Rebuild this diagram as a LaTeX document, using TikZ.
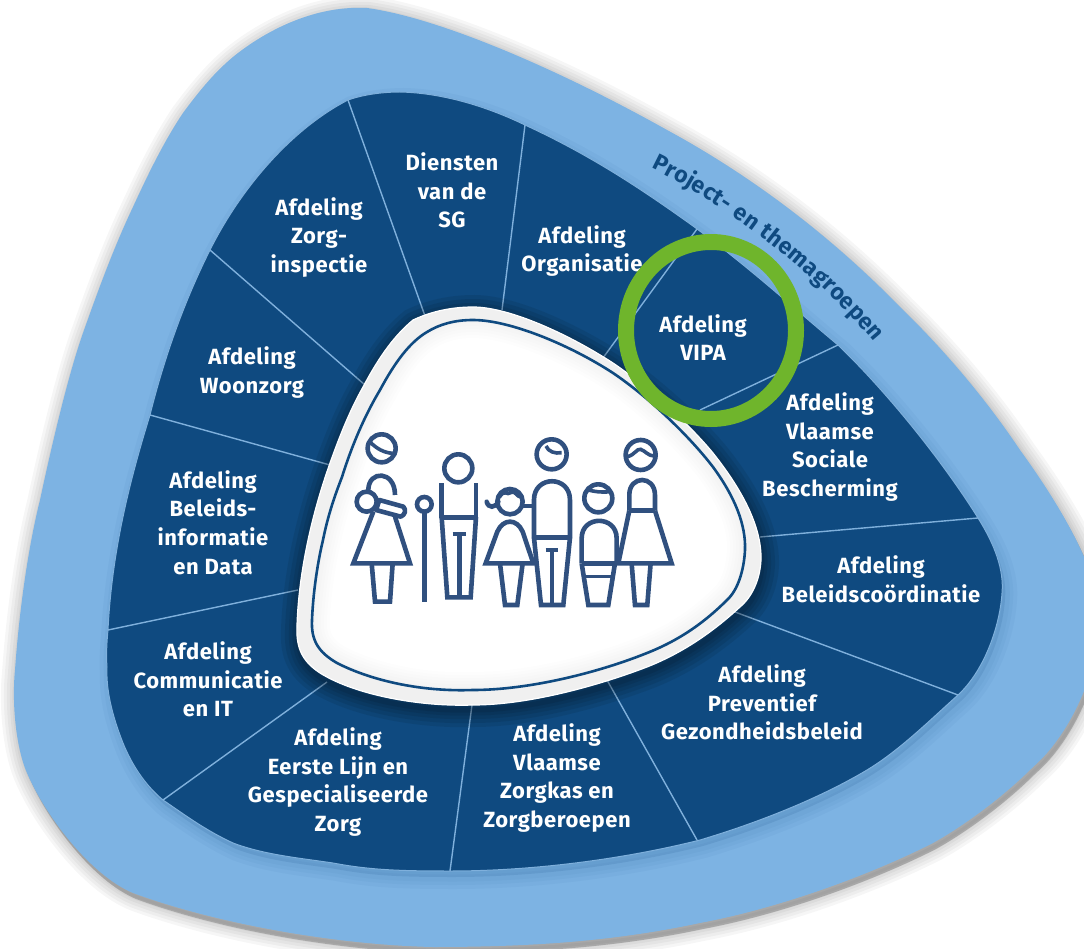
\documentclass[tikz,border=0pt]{standalone}
\usepackage{fontspec}
\setmainfont{Fira Sans}[LetterSpace=2.5]
\usetikzlibrary{decorations.text}
\definecolor{navy}{HTML}{0F4A80}
\definecolor{sky}{HTML}{7DB3E3}
\definecolor{divline}{HTML}{7FB0DC}
\definecolor{ring}{HTML}{6FB52C}
\definecolor{icon}{HTML}{30507F}
\newcommand{\outerpath}{(367,8) .. controls (440,18) and (560,70) .. (667,130)
 .. controls (750,175) and (830,235) .. (900,307)
 .. controls (960,365) and (1000,420) .. (1020,450)
 .. controls (1060,505) and (1098,570) .. (1100,615)
 .. controls (1100,670) and (1070,735) .. (1033,767)
 .. controls (1000,800) and (960,828) .. (933,843)
 .. controls (870,875) and (780,908) .. (700,923)
 .. controls (620,940) and (540,947) .. (433,947)
 .. controls (340,945) and (220,925) .. (133,893)
 .. controls (90,875) and (45,815) .. (27,773)
 .. controls (15,745) and (12,700) .. (15,670)
 .. controls (20,600) and (30,540) .. (40,500)
 .. controls (55,430) and (70,370) .. (83,333)
 .. controls (100,285) and (115,245) .. (133,207)
 .. controls (150,170) and (165,140) .. (183,113)
 .. controls (200,90) and (215,72) .. (233,57)
 .. controls (260,35) and (310,5) .. (367,8) -- cycle}
\newcommand{\innerpath}{(400,92) .. controls (445,93) and (490,108) .. (525,125)
 .. controls (590,155) and (640,188) .. (693,226)
 .. controls (750,268) and (790,305) .. (838,345)
 .. controls (890,395) and (945,465) .. (978,518)
 .. controls (995,545) and (1004,570) .. (1002,593)
 .. controls (1000,625) and (985,670) .. (958,695)
 .. controls (930,720) and (900,750) .. (867,770)
 .. controls (820,798) and (760,822) .. (700,840)
 .. controls (620,860) and (530,871) .. (450,871)
 .. controls (400,871) and (370,870) .. (333,863)
 .. controls (300,858) and (265,855) .. (233,843)
 .. controls (205,830) and (185,815) .. (163,800)
 .. controls (145,785) and (132,765) .. (123,743)
 .. controls (112,715) and (106,690) .. (107,667)
 .. controls (106,655) and (107,640) .. (108,630)
 .. controls (112,550) and (130,480) .. (150,415)
 .. controls (165,355) and (185,300) .. (210,250)
 .. controls (240,190) and (290,130) .. (348,100)
 .. controls (365,94) and (385,92) .. (400,92) -- cycle}
\newcommand{\rimpath}{(473,307) .. controls (510,307) and (570,335) .. (613,363)
 .. controls (650,388) and (690,425) .. (713,453)
 .. controls (740,487) and (762,525) .. (761,560)
 .. controls (760,580) and (752,597) .. (740,607)
 .. controls (715,630) and (685,652) .. (647,667)
 .. controls (600,685) and (530,705) .. (473,705)
 .. controls (420,707) and (355,695) .. (320,673)
 .. controls (300,660) and (296,645) .. (297,625)
 .. controls (299,565) and (315,505) .. (330,463)
 .. controls (340,435) and (350,410) .. (363,387)
 .. controls (380,355) and (395,335) .. (413,320)
 .. controls (430,312) and (450,307) .. (473,307) -- cycle}
\newcommand{\linepath}{(473,320) .. controls (510,320) and (570,345) .. (613,373)
 .. controls (650,398) and (690,437) .. (713,467)
 .. controls (735,497) and (746,525) .. (745,550)
 .. controls (744,570) and (738,590) .. (727,600)
 .. controls (705,622) and (680,640) .. (647,653)
 .. controls (600,672) and (530,690) .. (473,690)
 .. controls (420,692) and (370,680) .. (337,663)
 .. controls (318,652) and (311,640) .. (312,620)
 .. controls (313,595) and (317,565) .. (323,540)
 .. controls (328,515) and (335,495) .. (342,477)
 .. controls (352,445) and (365,415) .. (380,390)
 .. controls (395,362) and (410,342) .. (427,332)
 .. controls (440,324) and (455,320) .. (473,320) -- cycle}
\tikzset{
  x=1pt,y=-1pt,
  lbl/.style={text=white,align=center,font=\fontsize{22}{28.7}\selectfont\bfseries,inner sep=0pt},
  divider/.style={divline,line width=1.4pt},
  figure/.style={draw=icon,line width=4.6pt,line join=miter,fill=none},
}
\begin{document}
\begin{tikzpicture}
\useasboundingbox (0,0) rectangle (1084,949);
\clip (0,0) rectangle (1084,949);
\fill[white] (0,0) rectangle (1084,949);
% soft outer shadow
\foreach \w in {30,24,18,12,7,3}{
  \draw[black,opacity=0.035,line width=\w pt,line join=round,shift={(2,3)}] \outerpath;
}
\fill[black,opacity=0.2,shift={(3,6)}] \outerpath;
\fill[sky] \outerpath;
% inner field with shadow on the band
\foreach \w in {22,14,7}{
  \draw[navy,opacity=0.04,line width=\w pt,shift={(4,7)}] \innerpath;
}
\fill[navy,opacity=0.12,shift={(3,6)}] \innerpath;
\fill[navy] \innerpath;
\draw[divline,line width=1pt] \innerpath;
% dividers
\draw[divider] (348,100) -- (425,316);
\draw[divider] (525,125) -- (502,310);
\draw[divider] (697,229) -- (600,362);
\draw[divider] (838,345) -- (700,410);
\draw[divider] (978,518) -- (760,537);
\draw[divider] (958,695) -- (735,612);
\draw[divider] (697,840) -- (607,680);
\draw[divider] (450,871) -- (472,705);
\draw[divider] (163,800) -- (327,682);
\draw[divider] (108,630) -- (298,590);
\draw[divider] (150,415) -- (330,465);
\draw[divider] (210,250) -- (365,385);
% labels
\node[lbl] (sg) at (452,190.5) {Diensten\\van de\\SG};
\node[lbl] (zi) at (319,237.5) {Afdeling\\Zorg-\\inspectie};
\node[lbl] (org) at (582,251) {Afdeling\\Organisatie};
\node[lbl] (vipa) at (703,337.5) {Afdeling\\VIPA};
\node[lbl] (vsb) at (830,447) {Afdeling\\Vlaamse\\Sociale\\Bescherming};
\node[lbl] (bc) at (881,579) {Afdeling\\Beleidscoördinatie};
\node[lbl] (pg) at (762,702.5) {Afdeling\\Preventief\\Gezondheidsbeleid};
\node[lbl] (zk) at (557,778) {Afdeling\\Vlaamse\\Zorgkas en\\Zorgberoepen};
\node[lbl] (el) at (338,782) {Afdeling\\Eerste Lijn en\\Gespecialiseerde\\Zorg};
\node[lbl] (ci) at (208,679.5) {Afdeling\\Communicatie\\en IT};
\node[lbl] (bi) at (213,522.5) {Afdeling\\Beleids-\\informatie\\en Data};
\node[lbl] (wz) at (252,372.5) {Afdeling\\Woonzorg};
% centre shadow + rim
\foreach \w in {34,26,18,11,5}{
  \draw[black,opacity=0.08,line width=\w pt,shift={(1,5)}] \rimpath;
}
\fill[black!6] \rimpath;
\draw[white,line width=1.2pt] \rimpath;
\fill[white] \linepath;
\begin{scope}
  \clip \linepath;
  \foreach \w in {36,30,24,18,12,6}{
    \draw[black,opacity=0.008,line width=\w pt] \linepath;
  }
\end{scope}
\draw[navy,line width=2.6pt] \linepath;
% ring
\draw[ring,line width=16pt] (711,330.5) ellipse [x radius=85,y radius=88.5];
% arc text
\path[postaction={decorate,decoration={text along path,text align={fit to path},
   text={|\fontsize{23}{24}\selectfont\bfseries\color{navy}|Project- en themagroepen}}}]
   (651,168) .. controls (710,196) and (810,265) .. (874,342);
% family icon, coordinates of a 1/3 scale crop
\begin{scope}[shift={(340,420)},x=0.3333pt,y=-0.3333pt,figure]
  % mother with child
  \draw (125,85) circle [radius=42];
  \draw[line width=3.6pt] (92,68) .. controls (110,85) and (130,98) .. (158,100);
  \draw (85,210) .. controls (85,150) and (165,150) .. (165,225);
  \draw (80,245) circle [radius=30];
  \draw[line cap=round,line join=round] (118,240) -- (190,260) .. controls (200,270) and (195,285) .. (182,290) -- (108,270) -- cycle;
  \draw (100,275) -- (40,430) -- (210,430) -- (165,290);
  \draw (95,430) -- (105,545) -- (150,545) -- (158,430);
  % grandfather and cane
  \draw (355,145) circle [radius=42];
  \draw (305,295) -- (305,190) (408,295) -- (408,190);
  \draw (305,292) -- (408,292);
  \draw (305,292) -- (322,532) -- (392,532) -- (408,292);
  \draw (338,342) -- (378,342) (358,342) -- (358,532);
  \draw (253,253) circle [radius=22];
  \draw (253,275) -- (253,545);
  % girl
  \draw (510,245) circle [radius=38];
  \draw[line width=3.6pt] (478,232) .. controls (495,205) and (500,228) .. (512,218) .. controls (525,208) and (530,232) .. (545,232);
  \draw[line cap=round] (440,245) .. controls (445,265) and (465,265) .. (475,245);
  \draw (548,258) -- (580,258);
  \draw (437,430) -- (472,335) .. controls (490,295) and (530,295) .. (548,335) -- (580,430) -- cycle;
  \draw (480,430) -- (495,555) -- (532,555) -- (548,430);
  % father
  \draw (635,103) circle [radius=45];
  \draw[line width=3.6pt] (618,78) .. controls (625,95) and (645,102) .. (665,98);
  \draw (582,355) -- (582,240) .. controls (582,165) and (690,165) .. (690,240) -- (690,355);
  \draw (582,353) -- (690,353);
  \draw (582,353) -- (603,555) -- (670,555) -- (690,353);
  \draw (617,390) -- (655,390) (636,390) -- (636,555);
  % boy
  \draw (775,235) circle [radius=42];
  \draw[line width=3.6pt] (745,210) .. controls (765,215) and (785,218) .. (810,215);
  \draw (725,430) -- (725,355) .. controls (725,285) and (830,285) .. (830,355) -- (830,430);
  \draw (725,430) -- (832,430);
  \draw (725,430) -- (745,555) -- (805,555) -- (825,430);
  \draw[line width=3pt] (736,470) -- (815,470);
  % mother
  \draw (902,105) circle [radius=45];
  \draw[line width=3.6pt] (862,110) .. controls (885,105) and (890,85) .. (902,88) .. controls (915,92) and (925,108) .. (942,108);
  \draw (868,272) -- (868,225) .. controls (868,165) and (945,165) .. (945,225) -- (945,272);
  \draw (868,272) -- (945,272);
  \draw (868,272) -- (835,430) -- (995,430) -- (945,272);
  \draw (875,430) -- (885,555) -- (922,555) -- (932,430);
\end{scope}
\end{tikzpicture}
\end{document}
